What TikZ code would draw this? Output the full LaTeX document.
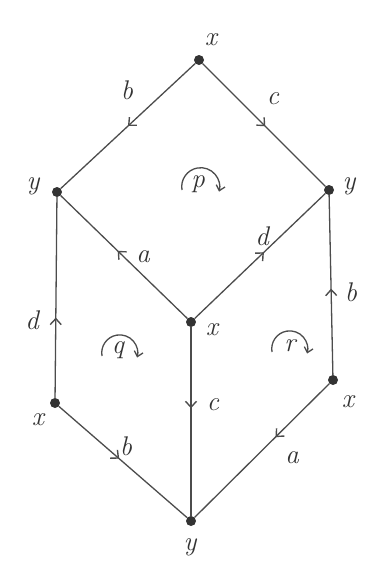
\documentclass[tikz,border=0pt]{standalone}
\usetikzlibrary{arrows.meta,decorations.markings}
\begin{document}
\begin{tikzpicture}[x=1pt,y=-1pt,
  dot/.style={circle,fill=black!80,inner sep=0pt,minimum size=10pt},
  edge/.style={draw=black!70,line width=1.3pt},
  marr/.style={edge,postaction={decorate},decoration={markings,
     mark=at position #1 with {\arrow[black!70,line width=1.4pt]{Straight Barb[length=6pt,width=11pt]}}}},
  lab/.style={font=\fontsize{27}{29}\selectfont\itshape,text=black!80,inner sep=0pt},
  rot/.style={draw=black!70,line width=1.3pt,-{Straight Barb[length=5pt,width=9pt]}}]
\useasboundingbox (0,0) rectangle (374,571);
\node[dot] (T) at (199,60) {};
\node[dot] (L) at (57,192) {};
\node[dot] (R) at (329,190) {};
\node[dot] (C) at (191,322) {};
\node[dot] (LX) at (55,403) {};
\node[dot] (RX) at (333,380) {};
\node[dot] (B) at (191,521) {};
\draw[marr=0.5] (T) -- (L);
\draw[marr=0.51] (T) -- (R);
\draw[marr=0.55] (C) -- (L);
\draw[marr=0.53] (C) -- (R);
\draw[marr=0.4] (LX) -- (L);
\draw[marr=0.43] (C) -- (B);
\draw[marr=0.47] (LX) -- (B);
\draw[marr=0.4] (RX) -- (B);
\draw[marr=0.48] (RX) -- (R);
\node[lab] (tT) at (211,40) {x};
\node[lab] (tL) at (33,186) {y};
\node[lab] (tR) at (349,186) {y};
\node[lab] (tC) at (212,330) {x};
\node[lab] (tLX) at (38,420) {x};
\node[lab] (tRX) at (348,402) {x};
\node[lab] (tB) at (190,547) {y};
\node[lab] (eb1) at (127,90) {b};
\node[lab] (ec1) at (273,99) {c};
\node[lab] (ea1) at (143,257) {a};
\node[lab] (ed1) at (262,236) {d};
\node[lab] (ed2) at (32,320) {d};
\node[lab] (ec2) at (213,405) {c};
\node[lab] (eb2) at (126,446) {b};
\node[lab] (ea2) at (292,458) {a};
\node[lab] (eb3) at (351,292) {b};
\node[lab] (fp) at (198,184) {p};
\node[lab] (fq) at (118,350) {q};
\node[lab] (fr) at (290,346) {r};
\draw[rot] (182,190) arc[start angle=170,end angle=375,radius=19];
\draw[rot] (102,356) arc[start angle=170,end angle=375,radius=18];
\draw[rot] (272,352) arc[start angle=170,end angle=375,radius=18];
\end{tikzpicture}
\end{document}
